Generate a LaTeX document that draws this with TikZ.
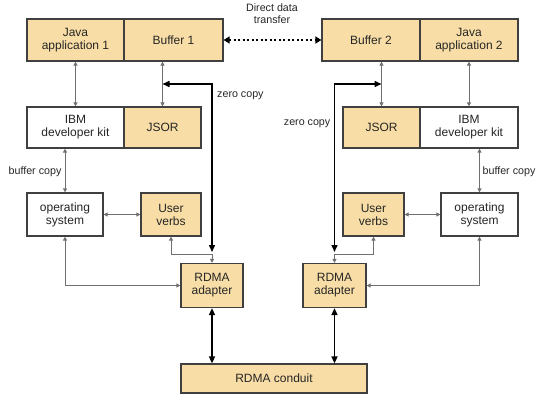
\documentclass[tikz,border=0pt]{standalone}
\usepackage{fontspec}
\setmainfont{Liberation Sans}
\usetikzlibrary{arrows.meta}
\definecolor{tanfill}{RGB}{248,222,166}
\definecolor{boxedge}{RGB}{64,64,64}
\definecolor{connc}{RGB}{112,112,112}
\definecolor{txt}{RGB}{38,38,38}
\begin{document}
\begin{tikzpicture}[x=1pt,y=-1pt,
  box/.style={draw=boxedge, line width=1.2pt, fill=white, minimum height=42pt, align=center, inner sep=0pt, font=\fontsize{12}{13}\selectfont, text=txt},
  tanbox/.style={box, fill=tanfill},
  gconn/.style={draw=connc, line width=0.9pt, {Triangle[length=4pt,width=4pt]}-{Triangle[length=4pt,width=4pt]}},
  bconn/.style={draw=black, line width=1.5pt, {Triangle[length=7pt,width=6pt]}-{Triangle[length=7pt,width=6pt]}},
  dotconn/.style={draw=black, line width=2pt, dash pattern=on 2pt off 2.5pt, {Triangle[length=6pt,width=7pt]}-{Triangle[length=6pt,width=7pt]}},
  lbl/.style={font=\fontsize{10.7}{12}\selectfont, text=txt, inner sep=0pt, align=center}]
\useasboundingbox (0,0) rectangle (541,405);

% top row
\node[tanbox, minimum width=97pt] (jav1) at (75.5,40) {Java\\application 1};
\node[tanbox, minimum width=99pt] (buf1) at (173.5,40) {Buffer 1};
\node[tanbox, minimum width=98pt] (buf2) at (371,40) {Buffer 2};
\node[tanbox, minimum width=98pt] (jav2) at (469,40) {Java\\application 2};
% second row
\node[box, minimum width=97pt, minimum height=41pt] (ibm1) at (75.5,127.5) {IBM\\developer kit};
\node[tanbox, minimum width=77pt, minimum height=41pt] (jsor1) at (162.5,127.5) {JSOR};
\node[tanbox, minimum width=77pt, minimum height=41pt] (jsor2) at (381.5,127.5) {JSOR};
\node[box, minimum width=98pt, minimum height=41pt] (ibm2) at (469,127.5) {IBM\\developer kit};
% third row
\node[box, minimum width=76pt, minimum height=43pt] (os1) at (65,214.5) {operating\\system};
\node[tanbox, minimum width=60pt, minimum height=43pt] (uv1) at (171,214.5) {User\\verbs};
\node[tanbox, minimum width=61pt, minimum height=43pt] (uv2) at (373.5,214.5) {User\\verbs};
\node[box, minimum width=77pt, minimum height=43pt] (os2) at (479.5,214.5) {operating\\system};
% adapters and conduit
\node[tanbox, minimum width=62pt, minimum height=44pt] (rd1) at (212,285.5) {RDMA\\adapter};
\node[tanbox, minimum width=63pt, minimum height=44pt] (rd2) at (334.5,285.5) {RDMA\\adapter};
\node[tanbox, minimum width=186pt, minimum height=29pt] (cond) at (274,378.5) {RDMA conduit};

% labels
\node[lbl] (dt) at (272,14) {Direct data\\transfer};
\node[lbl, anchor=west] (zc1) at (217,96) {zero copy};
\node[lbl, anchor=east] (zc2) at (330.5,124) {zero copy};
\node[lbl] (bc1) at (35,172) {buffer copy};
\node[lbl] (bc2) at (509,172) {buffer copy};

% coordinates
\coordinate (z1) at (212,84);
\coordinate (zt1) at (212,252);
\coordinate (z2) at (334.5,84);
\coordinate (zt2) at (334.5,252);
\coordinate (j1) at (212,254);
\coordinate (j2) at (334.5,254);

% thin gray connectors
\draw[gconn] (jav1.south) -- (ibm1.north);
\draw[gconn] (jsor1.north |- buf1.south) -- (jsor1.north);
\draw[gconn] (jsor2.north |- buf2.south) -- (jsor2.north);
\draw[gconn] (jav2.south) -- (ibm2.north);
\draw[gconn] (os1.north |- ibm1.south) -- (os1.north);
\draw[gconn] (os2.north |- ibm2.south) -- (os2.north);
\draw[gconn] (os1.east) -- (uv1.west);
\draw[gconn] (uv2.east) -- (os2.west);
\draw[gconn] (os1.south) |- (rd1.west);
\draw[gconn] (os2.south) |- (rd2.east);
\draw[gconn] (uv1.south) |- (j1) -- (rd1.north);
\draw[gconn] (uv2.south) |- (j2) -- (rd2.north);

% thick black connectors
\draw[bconn] (zt1) -- (z1) -- (jsor1.north |- z1);
\draw[bconn] (zt2) -- (z2) -- (jsor2.north |- z2);
\draw[bconn] (rd1.south) -- (rd1.south |- cond.north);
\draw[bconn] (rd2.south) -- (rd2.south |- cond.north);
\draw[dotconn] (buf1.east) -- (buf2.west);
\end{tikzpicture}
\end{document}
